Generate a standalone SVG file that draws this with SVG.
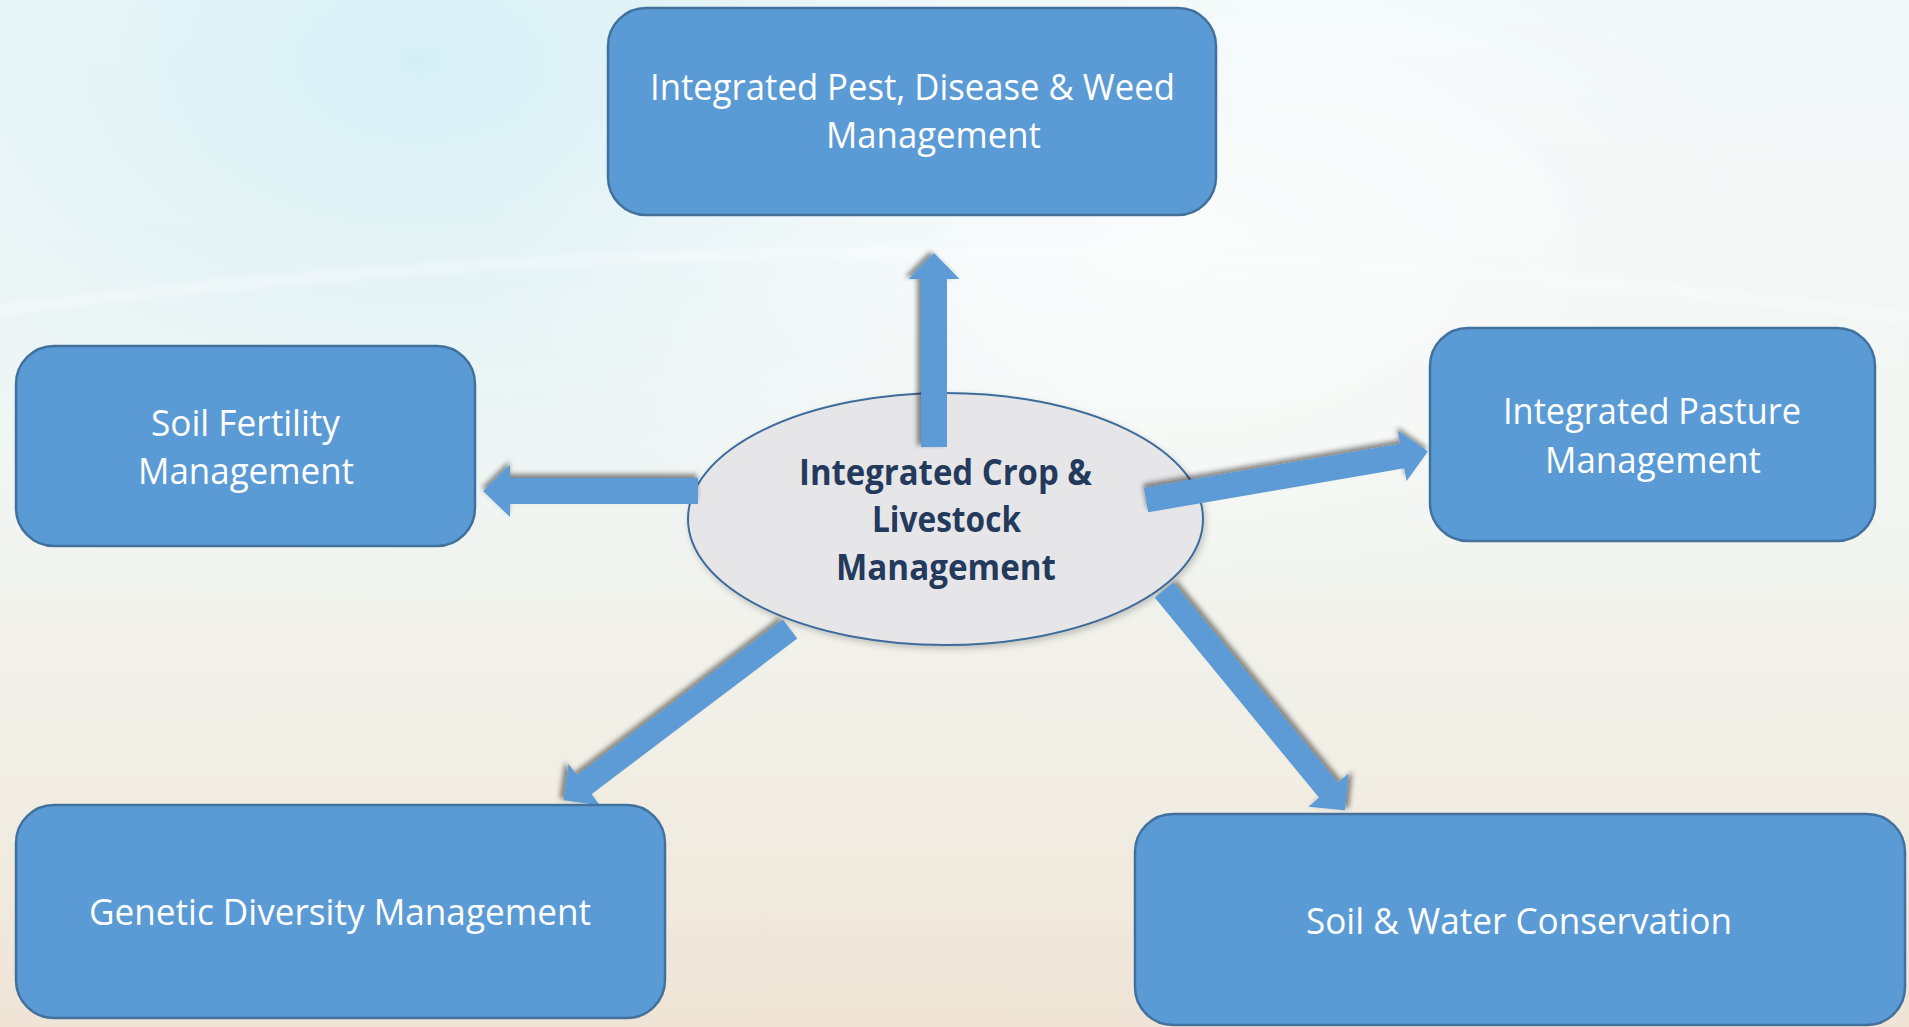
<svg xmlns="http://www.w3.org/2000/svg" width="1909" height="1027" viewBox="0 0 1909 1027">
  <defs>
    <linearGradient id="bgV" x1="0" y1="0" x2="0" y2="1">
      <stop offset="0" stop-color="#f3f9f9"/>
      <stop offset="0.45" stop-color="#f2f6f3"/>
      <stop offset="0.75" stop-color="#f1eee4"/>
      <stop offset="1" stop-color="#efe4d6"/>
    </linearGradient>
    <radialGradient id="bgC" cx="0.22" cy="0.05" r="0.45" gradientTransform="scale(1,1.2)">
      <stop offset="0" stop-color="#d3eef6" stop-opacity="0.9"/>
      <stop offset="1" stop-color="#e4f3f5" stop-opacity="0"/>
    </radialGradient>
    <radialGradient id="bgW" cx="0.6" cy="0.25" r="0.35">
      <stop offset="0" stop-color="#ffffff" stop-opacity="0.6"/>
      <stop offset="1" stop-color="#ffffff" stop-opacity="0"/>
    </radialGradient>
    <filter id="blur" x="-10%" y="-50%" width="120%" height="200%">
      <feGaussianBlur stdDeviation="4"/>
    </filter>
    <filter id="shL" x="-30%" y="-30%" width="160%" height="160%">
      <feDropShadow dx="-4" dy="-2" stdDeviation="2.5" flood-color="#000" flood-opacity="0.45"/>
    </filter>
    <filter id="shU" x="-30%" y="-30%" width="160%" height="160%">
      <feDropShadow dx="-1" dy="-4" stdDeviation="2.5" flood-color="#000" flood-opacity="0.45"/>
    </filter>
    <filter id="shR" x="-30%" y="-30%" width="160%" height="160%">
      <feDropShadow dx="4" dy="-2" stdDeviation="2.5" flood-color="#000" flood-opacity="0.45"/>
    </filter>
    <filter id="shE" x="-10%" y="-10%" width="120%" height="130%">
      <feDropShadow dx="2" dy="3" stdDeviation="3" flood-color="#000" flood-opacity="0.2"/>
    </filter>
  </defs>
  <style>
    .box { fill: #5b9bd5; stroke: #41719c; stroke-width: 2.5; }
    .bt { font-family: "Open Sans", "Liberation Sans", sans-serif; font-size: 36px; fill: #ffffff; text-anchor: middle; }
    .ct { font-family: "Open Sans", "Liberation Sans", sans-serif; font-size: 36px; font-weight: bold; fill: #243a5c; text-anchor: middle; }
    .arr { fill: #5b9bd5; }
  </style>

  <!-- background -->
  <rect x="0" y="0" width="1909" height="1027" fill="url(#bgV)"/>
  <rect x="0" y="0" width="1909" height="1027" fill="url(#bgC)"/>
  <rect x="0" y="0" width="1909" height="1027" fill="url(#bgW)"/>
  <path d="M0,310 Q950,191 1909,318" fill="none" stroke="#ffffff" stroke-width="5" stroke-opacity="0.7" filter="url(#blur)"/>

  <!-- center node -->
  <g id="center">
    <ellipse cx="945.5" cy="519" rx="257.5" ry="126" fill="#e6e6e8" stroke="#3d6c9c" stroke-width="2" filter="url(#shE)"/>
  </g>

  <!-- connectors -->
  <g id="connectors">
    <g filter="url(#shL)">
      <path class="arr" d="M0,-13 H168 V-25.5 L194,0 L168,25.5 V13 H0 Z" transform="translate(934,447) rotate(-90)"/>
    </g>
    <g filter="url(#shU)">
      <path class="arr" d="M0,-13 H188 V-26 L215,0 L188,26 V13 H0 Z" transform="translate(698,491) rotate(180)"/>
    </g>
    <g filter="url(#shU)">
      <path class="arr" d="M0,-12.5 H260 V-25.5 L286,0 L260,25.5 V12.5 H0 Z" transform="translate(1146,500) rotate(-9.75)"/>
    </g>
    <g filter="url(#shL)">
      <path class="arr" d="M0,-12 H258 V-26 L284,0 L258,26 V12 H0 Z" transform="translate(790,629) rotate(142.9)"/>
    </g>
    <g filter="url(#shR)">
      <path class="arr" d="M0,-12 H259 V-26 L285,0 L259,26 V12 H0 Z" transform="translate(1164,590) rotate(50.6)"/>
    </g>
  </g>

  <g id="center-label">
    <text class="ct" x="945.5" y="485" textLength="293" lengthAdjust="spacingAndGlyphs">Integrated Crop &amp;</text>
    <text class="ct" x="946.5" y="532" textLength="149" lengthAdjust="spacingAndGlyphs">Livestock</text>
    <text class="ct" x="946" y="580" textLength="220" lengthAdjust="spacingAndGlyphs">Management</text>
  </g>

  <g id="pest">
    <rect class="box" x="608" y="8" width="608" height="207" rx="38"/>
    <text class="bt" x="912.5" y="100" textLength="525" lengthAdjust="spacingAndGlyphs">Integrated Pest, Disease &amp; Weed</text>
    <text class="bt" x="933.5" y="148" textLength="215" lengthAdjust="spacingAndGlyphs">Management</text>
  </g>

  <g id="soil-fertility">
    <rect class="box" x="16" y="346" width="459" height="200" rx="38"/>
    <text class="bt" x="245.5" y="436" textLength="189" lengthAdjust="spacingAndGlyphs">Soil Fertility</text>
    <text class="bt" x="246" y="484" textLength="216" lengthAdjust="spacingAndGlyphs">Management</text>
  </g>

  <g id="pasture">
    <rect class="box" x="1430" y="328" width="445" height="213" rx="38"/>
    <text class="bt" x="1652" y="424" textLength="298" lengthAdjust="spacingAndGlyphs">Integrated Pasture</text>
    <text class="bt" x="1653" y="473" textLength="216" lengthAdjust="spacingAndGlyphs">Management</text>
  </g>

  <g id="genetic">
    <rect class="box" x="16" y="805" width="649" height="213" rx="38"/>
    <text class="bt" x="340" y="925" textLength="502" lengthAdjust="spacingAndGlyphs">Genetic Diversity Management</text>
  </g>

  <g id="soil-water">
    <rect class="box" x="1135" y="814" width="770" height="211" rx="38"/>
    <text class="bt" x="1519" y="934" textLength="426" lengthAdjust="spacingAndGlyphs">Soil &amp; Water Conservation</text>
  </g>
</svg>
